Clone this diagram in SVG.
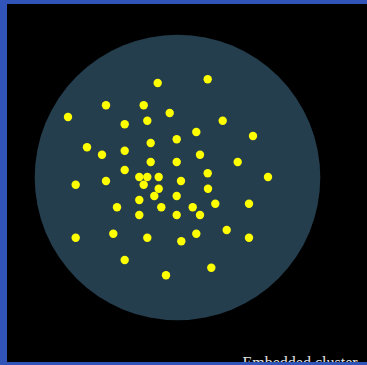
<svg xmlns="http://www.w3.org/2000/svg" width="367" height="365" viewBox="0 0 367 365">
<style>
.dot{fill:#ffff00}
.frame{fill:#3054b8}
</style>
<rect width="367" height="365" fill="#000"/>
<g id="cluster">
<circle cx="177.5" cy="177.5" r="142.8" fill="#243e4e"/>
</g>
<g id="stars">
<circle class="dot" cx="157.7" cy="83" r="4.2"/>
<circle class="dot" cx="207.7" cy="79.3" r="4.2"/>
<circle class="dot" cx="68" cy="117" r="4.2"/>
<circle class="dot" cx="106" cy="105.3" r="4.2"/>
<circle class="dot" cx="143.7" cy="105.3" r="4.2"/>
<circle class="dot" cx="169.7" cy="113" r="4.2"/>
<circle class="dot" cx="124.7" cy="124.3" r="4.2"/>
<circle class="dot" cx="147.3" cy="120.7" r="4.2"/>
<circle class="dot" cx="222.7" cy="120.7" r="4.2"/>
<circle class="dot" cx="253" cy="136" r="4.2"/>
<circle class="dot" cx="196.3" cy="132" r="4.2"/>
<circle class="dot" cx="87" cy="147.3" r="4.2"/>
<circle class="dot" cx="102" cy="154.7" r="4.2"/>
<circle class="dot" cx="124.7" cy="150.7" r="4.2"/>
<circle class="dot" cx="150.7" cy="143" r="4.2"/>
<circle class="dot" cx="176.7" cy="139.3" r="4.2"/>
<circle class="dot" cx="200" cy="154.7" r="4.2"/>
<circle class="dot" cx="237.7" cy="162" r="4.2"/>
<circle class="dot" cx="150.7" cy="162" r="4.2"/>
<circle class="dot" cx="176.7" cy="162" r="4.2"/>
<circle class="dot" cx="124.7" cy="170" r="4.2"/>
<circle class="dot" cx="207.7" cy="173.3" r="4.2"/>
<circle class="dot" cx="268" cy="177" r="4.2"/>
<circle class="dot" cx="75.7" cy="184.7" r="4.2"/>
<circle class="dot" cx="106" cy="181" r="4.2"/>
<circle class="dot" cx="139.3" cy="177" r="4.2"/>
<circle class="dot" cx="147.3" cy="177" r="4.2"/>
<circle class="dot" cx="158.7" cy="177" r="4.2"/>
<circle class="dot" cx="143.7" cy="184.7" r="4.2"/>
<circle class="dot" cx="181" cy="181" r="4.2"/>
<circle class="dot" cx="158.7" cy="188.7" r="4.2"/>
<circle class="dot" cx="208" cy="188.7" r="4.2"/>
<circle class="dot" cx="154.3" cy="196" r="4.2"/>
<circle class="dot" cx="139.3" cy="200" r="4.2"/>
<circle class="dot" cx="176.7" cy="196" r="4.2"/>
<circle class="dot" cx="117" cy="207.3" r="4.2"/>
<circle class="dot" cx="161.3" cy="207.3" r="4.2"/>
<circle class="dot" cx="192.7" cy="207.3" r="4.2"/>
<circle class="dot" cx="215.3" cy="203.7" r="4.2"/>
<circle class="dot" cx="249" cy="203.7" r="4.2"/>
<circle class="dot" cx="139.3" cy="215" r="4.2"/>
<circle class="dot" cx="176.7" cy="215" r="4.2"/>
<circle class="dot" cx="200" cy="215" r="4.2"/>
<circle class="dot" cx="226.7" cy="230" r="4.2"/>
<circle class="dot" cx="75.7" cy="237.7" r="4.2"/>
<circle class="dot" cx="113.3" cy="233.7" r="4.2"/>
<circle class="dot" cx="147.3" cy="237.7" r="4.2"/>
<circle class="dot" cx="181.3" cy="241.3" r="4.2"/>
<circle class="dot" cx="196.3" cy="233.7" r="4.2"/>
<circle class="dot" cx="249" cy="237.7" r="4.2"/>
<circle class="dot" cx="124.7" cy="260" r="4.2"/>
<circle class="dot" cx="166" cy="275.3" r="4.2"/>
<circle class="dot" cx="211.3" cy="267.7" r="4.2"/>
</g>
<text x="242.5" y="367.5" font-family="'Liberation Serif', 'Times New Roman', serif" font-size="16" fill="#e6e6e6">Embedded cluster</text>
<g id="frame">
<rect class="frame" x="0" y="0" width="367" height="4"/>
<rect class="frame" x="0" y="0" width="7" height="365"/>
<rect class="frame" x="0" y="362" width="367" height="3"/>
</g>
</svg>
